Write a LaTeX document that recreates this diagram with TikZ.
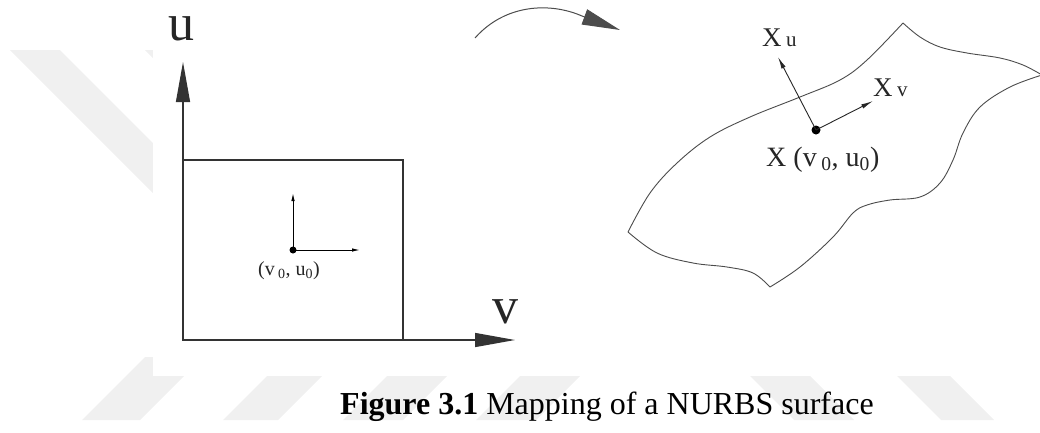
\documentclass[tikz,border=0pt]{standalone}
\usepackage{fontspec}
\setmainfont{Liberation Serif}
\usetikzlibrary{arrows.meta}
\begin{document}
\begin{tikzpicture}[x=1pt,y=-1pt,
  wm/.style={fill=black!6,draw=none},
  axisline/.style={line width=1.3pt,draw=black!80},
  bigtip/.style={-{Triangle[length=40pt,width=14pt]}},
  smalltip/.style={-{Latex[length=8pt,width=3.5pt]}},
  vectip/.style={-{Latex[length=12pt,width=4.5pt]}},
  outline/.style={line width=0.9pt,draw=black!70},
  dot/.style={circle,fill=black,inner sep=0pt,minimum size=#1},
  lbl/.style={inner sep=0pt,text=black!85},
  biglbl/.style={lbl,anchor=base,font=\fontsize{52pt}{52pt}\selectfont},
]
\useasboundingbox (0,0) rectangle (1040,432);
% watermark stripes
\fill[wm] (10,50) -- (60,50) -- (250,240) -- (200,240) -- cycle;
\fill[wm] (145,50) -- (195,50) -- (240,95) -- (190,95) -- cycle;
\fill[wm] (82,420) -- (140,420) -- (203,357) -- (145,357) -- cycle;
\fill[wm] (223,420) -- (278,420) -- (340,358) -- (285,358) -- cycle;
\fill[wm] (343,420) -- (403,420) -- (465,358) -- (405,358) -- cycle;
\fill[wm] (476,420) -- (536,420) -- (598,358) -- (538,358) -- cycle;
\fill[wm] (732,358) -- (792,358) -- (854,420) -- (794,420) -- cycle;
\fill[wm] (879,358) -- (932,358) -- (994,420) -- (941,420) -- cycle;
\fill[white] (153,0) rectangle (1040,376);

% parameter domain
\coordinate (O) at (183,340);
\coordinate (R) at (403,160);
\coordinate (utip) at (183,62);
\coordinate (vtip) at (515,340);
\draw[axisline] (O) rectangle (R);
\draw[axisline,bigtip] (O) -- (utip);
\draw[axisline,bigtip] (O) -- (vtip);
\node[biglbl] (ulab) at (181.5,40) {u};
\node[biglbl] (vlab) at (505,323) {v};
\node[dot=7pt] (p) at (293,250) {};
\coordinate (pu) at (293,193);
\coordinate (pv) at (360,250);
\draw[line width=1pt,smalltip] (p.center) -- (pu);
\draw[line width=1pt,smalltip] (p.center) -- (pv);
\node[lbl,anchor=base west,font=\fontsize{20pt}{20pt}\selectfont] (plab) at (258,275)
  {(v\,\textsubscript{0}, u\textsubscript{0})};

% mapping arrow
\coordinate (m1) at (475,38);
\coordinate (m2) at (582,16);
\coordinate (m3) at (620,30);
\draw[line width=1pt,draw=black!70,-{Triangle[length=38pt,width=16pt]}]
  (m1) .. controls (505,4) and (550,2) .. (m2) -- (m3);

% surface
\coordinate (ct) at (903,23);
\coordinate (cr) at (1042,75);
\coordinate (cb) at (770,287);
\coordinate (cl) at (628,232);
\draw[outline] plot[smooth,tension=0.6] coordinates
  {(ct) (920,37) (940,47) (967,53) (1000,58) (1023,65) (cr)};
\draw[outline] plot[smooth,tension=0.6] coordinates
  {(cr) (1010,87) (980,107) (963,133) (953,160) (940,183) (920,197) (890,200) (867,205) (853,213) (833,237) (800,267) (cb)};
\draw[outline] plot[smooth,tension=0.6] coordinates
  {(cb) (753,273) (727,267) (693,263) (657,253) (cl)};
\draw[outline] plot[smooth,tension=0.6] coordinates
  {(cl) (650,193) (677,163) (710,137) (750,117) (800,97) (840,80) (867,60) (ct)};

\node[dot=9pt] (X) at (816,130) {};
\coordinate (xu) at (778,57);
\coordinate (xv) at (873,101);
\draw[line width=0.9pt,draw=black!85,vectip] (X.center) -- (xu);
\draw[line width=0.9pt,draw=black!85,vectip] (X.center) -- (xv);
\node[lbl,anchor=base west,font=\fontsize{27pt}{27pt}\selectfont] (xulab) at (762,46)
  {X\,{\fontsize{21pt}{21pt}\selectfont u}};
\node[lbl,anchor=base west,font=\fontsize{27pt}{27pt}\selectfont] (xvlab) at (873,96)
  {X\,{\fontsize{21pt}{21pt}\selectfont v}};
\node[lbl,anchor=base west,font=\fontsize{28pt}{28pt}\selectfont] (xlab) at (766,166)
  {X (v\,\textsubscript{0}, u\textsubscript{0})};

% caption
\node[inner sep=0pt,anchor=base west,font=\fontsize{32pt}{32pt}\selectfont] (cap) at (340,414)
  {\textbf{Figure 3.1} Mapping of a NURBS surface};
\end{tikzpicture}
\end{document}
